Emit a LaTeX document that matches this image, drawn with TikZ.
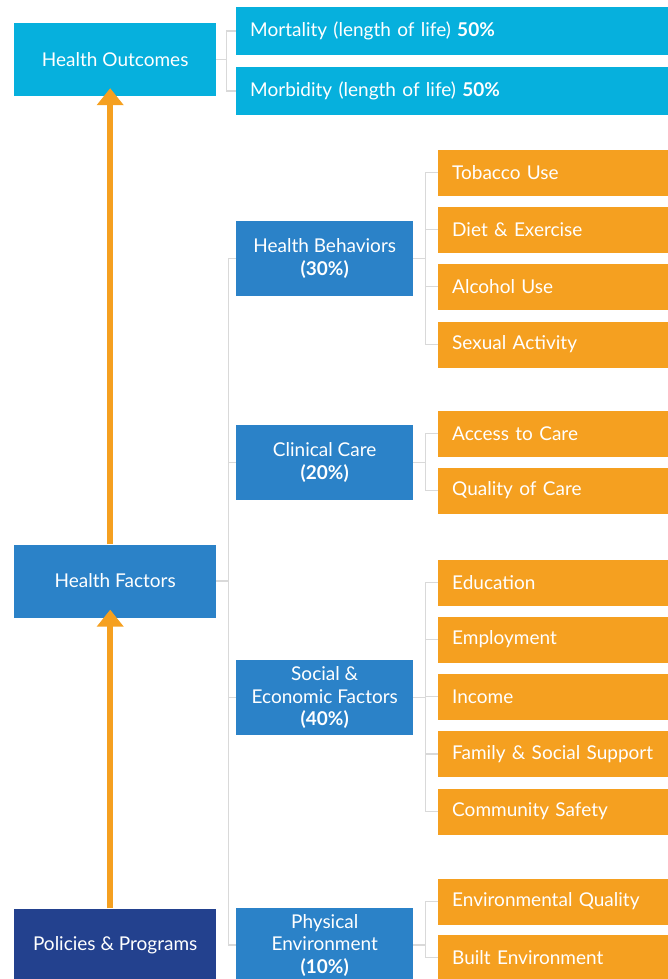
\documentclass[tikz,border=0pt]{standalone}
\usepackage{fontspec}
\setmainfont{Lato}
\usepackage{xcolor}
\usetikzlibrary{arrows.meta, positioning}

\definecolor{outcomeblue}{RGB}{6,176,221}
\definecolor{factorblue}{RGB}{43,130,200}
\definecolor{policynavy}{RGB}{35,65,142}
\definecolor{itemorange}{RGB}{245,160,32}
\definecolor{linegray}{RGB}{217,217,217}

\tikzset{
    mainbox/.style={fill=#1, text=white, minimum width=202pt, minimum height=73pt, inner sep=0pt, anchor=west, align=center},
    subbox/.style={fill=factorblue, text=white, minimum width=177pt, minimum height=75pt, inner sep=0pt, anchor=west, align=center},
    itembox/.style={fill=itemorange, text=white, text width=202pt, inner xsep=14pt, inner ysep=0pt, minimum height=46pt, anchor=west, align=left},
    outbox/.style={fill=outcomeblue, text=white, text width=404pt, inner xsep=14pt, inner ysep=0pt, minimum height=48pt, anchor=west, align=left},
    link/.style={draw=linegray, line width=1.5pt},
    uparrow/.style={draw=itemorange, line width=6pt, -{Triangle[width=26pt,length=17pt]}}
}

\begin{document}
\begin{tikzpicture}[x=1pt, y=-1pt, font=\fontsize{19}{22.5}\selectfont]
    \useasboundingbox (0,0) rectangle (668,979);

    % left column
    \node[mainbox=outcomeblue] (ho) at (14,59.5) {Health Outcomes};
    \node[mainbox=factorblue] (hf) at (14,581) {Health Factors};
    \node[mainbox=policynavy] (pp) at (14,945) {Policies \& Programs};

    % outcomes
    \node[outbox] (mort) at (236,31) {Mortality (length of life) \textbf{50\%}};
    \node[outbox] (morb) at (236,91) {Morbidity (length of life) \textbf{50\%}};

    % factors
    \node[subbox] (hb) at (236,258.5) {Health Behaviors\\\textbf{(30\%)}};
    \node[subbox] (cc) at (236,462.5) {Clinical Care\\\textbf{(20\%)}};
    \node[subbox] (se) at (236,697.5) {Social \&\\Economic Factors\\\textbf{(40\%)}};
    \node[subbox] (pe) at (236,945) {Physical\\Environment\\\textbf{(10\%)}};

    % items
    \node[itembox] (tob) at (438,172.5) {Tobacco Use};
    \node[itembox] (diet) at (438,229.5) {Diet \& Exercise};
    \node[itembox] (alc) at (438,286.5) {Alcohol Use};
    \node[itembox] (sex) at (438,344.5) {Sexual Activity};
    \node[itembox] (acc) at (438,433.5) {Access to Care};
    \node[itembox] (qual) at (438,490.5) {Quality of Care};
    \node[itembox] (edu) at (438,582.5) {Education};
    \node[itembox] (emp) at (438,639.5) {Employment};
    \node[itembox] (inc) at (438,696.5) {Income};
    \node[itembox] (fam) at (438,754) {Family \& Social Support};
    \node[itembox] (safe) at (438,811.5) {Community Safety};
    \node[itembox] (envq) at (438,901.5) {Environmental Quality};
    \node[itembox] (built) at (438,957.5) {Built Environment};

    % connectors
    \foreach \c in {mort,morb}
        \draw[link] (ho.east) -- ++(10,0) |- (\c.west);
    \foreach \c in {hb,cc,se,pe}
        \draw[link] (hf.east) -- ++(12,0) |- (\c.west);
    \foreach \c in {tob,diet,alc,sex}
        \draw[link] (hb.east) -- ++(12,0) |- (\c.west);
    \foreach \c in {acc,qual}
        \draw[link] (cc.east) -- ++(12,0) |- (\c.west);
    \foreach \c in {edu,emp,inc,fam,safe}
        \draw[link] (se.east) -- ++(12,0) |- (\c.west);
    \foreach \c in {envq,built}
        \draw[link] (pe.east) -- ++(12,0) |- (\c.west);

    % arrows
    \draw[uparrow] ([xshift=-5pt]hf.north) -- ([xshift=-5pt,yshift=8pt]ho.south);
    \draw[uparrow] ([xshift=-5pt]pp.north) -- ([xshift=-5pt,yshift=8pt]hf.south);
\end{tikzpicture}
\end{document}
